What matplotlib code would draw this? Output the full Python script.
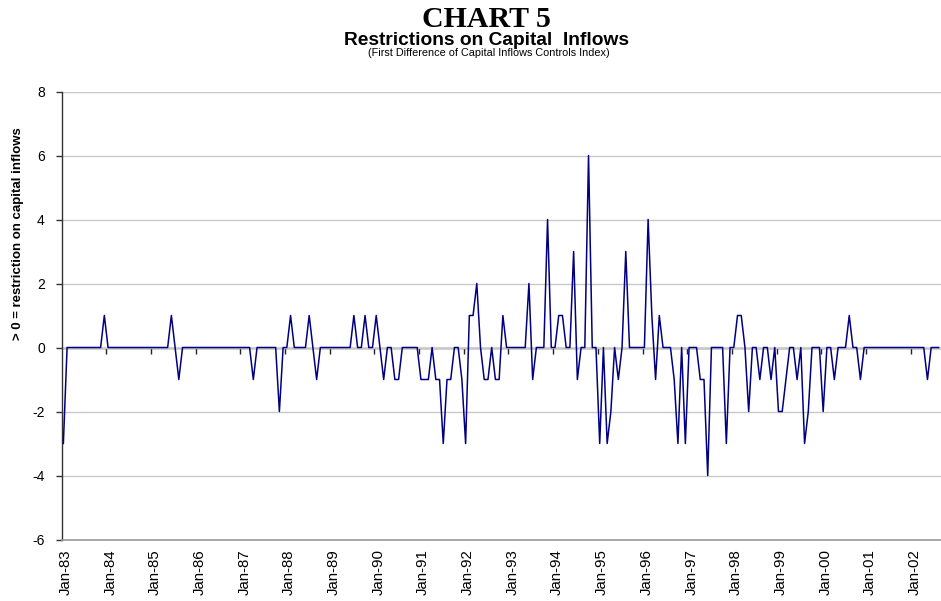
import numpy as np
import matplotlib
matplotlib.use("Agg")
import matplotlib.pyplot as plt

# Monthly first difference of capital inflows controls index, Jan-83 .. Aug-02
values = [
    -3, 0, 0, 0, 0, 0, 0, 0, 0, 0, 0, 1,            # 1983
    0, 0, 0, 0, 0, 0, 0, 0, 0, 0, 0, 0,             # 1984
    0, 0, 0, 0, 0, 1, 0, -1, 0, 0, 0, 0,            # 1985
    0, 0, 0, 0, 0, 0, 0, 0, 0, 0, 0, 0,             # 1986
    0, 0, 0, -1, 0, 0, 0, 0, 0, 0, -2, 0,           # 1987
    0, 1, 0, 0, 0, 0, 1, 0, -1, 0, 0, 0,            # 1988
    0, 0, 0, 0, 0, 0, 1, 0, 0, 1, 0, 0,             # 1989
    1, 0, -1, 0, 0, -1, -1, 0, 0, 0, 0, 0,          # 1990
    -1, -1, -1, 0, -1, -1, -3, -1, -1, 0, 0, -1,    # 1991
    -3, 1, 1, 2, 0, -1, -1, 0, -1, -1, 1, 0,        # 1992
    0, 0, 0, 0, 0, 2, -1, 0, 0, 0, 4, 0,            # 1993
    0, 1, 1, 0, 0, 3, -1, 0, 0, 6, 0, 0,            # 1994
    -3, 0, -3, -2, 0, -1, 0, 3, 0, 0, 0, 0,         # 1995
    0, 4, 1, -1, 1, 0, 0, 0, -1, -3, 0, -3,         # 1996
    0, 0, 0, -1, -1, -4, 0, 0, 0, 0, -3, 0,         # 1997
    0, 1, 1, 0, -2, 0, 0, -1, 0, 0, -1, 0,          # 1998
    -2, -2, -1, 0, 0, -1, 0, -3, -2, 0, 0, 0,       # 1999
    -2, 0, 0, -1, 0, 0, 0, 1, 0, 0, -1, 0,          # 2000
    0, 0, 0, 0, 0, 0, 0, 0, 0, 0, 0, 0,             # 2001
    0, 0, 0, 0, -1, 0, 0, 0,                        # 2002
]
year_labels = ["Jan-83", "Jan-84", "Jan-85", "Jan-86", "Jan-87", "Jan-88", "Jan-89",
               "Jan-90", "Jan-91", "Jan-92", "Jan-93", "Jan-94", "Jan-95", "Jan-96",
               "Jan-97", "Jan-98", "Jan-99", "Jan-00", "Jan-01", "Jan-02"]
y_ticks = [-6, -4, -2, 0, 2, 4, 6, 8]

plt.rcParams['font.family'] = ['Liberation Sans', 'DejaVu Sans']

W, H = 941, 601
fig = plt.figure(figsize=(W / 100, H / 100), dpi=100)
left, right, top, bottom = 61.5, 940.5, 91.5, 539.5
ax = fig.add_axes([left / W, 1 - bottom / H, (right - left) / W, (bottom - top) / H])

n = len(values)
x = np.arange(n)
ax.plot(x, values, color='#000080', lw=1.1, zorder=3)

ax.set_xlim(-0.5, n - 0.5)
ax.set_ylim(-6, 8)
ax.set_yticks(y_ticks)
ax.set_yticklabels([str(v) for v in y_ticks], fontsize=10)
ax.yaxis.grid(True, color='#c8c8c8', lw=1.0, zorder=0)
ax.set_axisbelow(True)

ax.tick_params(axis='y', direction='out', length=4, width=1, color='#333333', pad=8)
ax.spines['top'].set_visible(False)
ax.spines['right'].set_visible(False)
ax.spines['left'].set_color('#333333')
ax.spines['left'].set_linewidth(1.0)
ax.spines['bottom'].set_color('#999999')
ax.spines['bottom'].set_linewidth(1.2)

label_pos = np.arange(0, n, 12)[:len(year_labels)]
ax.set_xticks(label_pos + 0.6)
ax.set_xticklabels(year_labels, rotation=90, fontsize=10.8, va='top', ha='center')
ax.tick_params(axis='x', length=0, pad=7)

# category axis crossing at zero, with tick marks between Dec and Jan
sec = ax.secondary_xaxis(6 / 14)
sec.set_xticks(np.arange(12, n, 12) - 0.5)
sec.set_xticklabels([])
sec.tick_params(axis='x', direction='out', length=4, width=1, color='#222222')
sec.spines['bottom'].set_color('#222222')
sec.spines['bottom'].set_linewidth(1.0)
sec.spines['top'].set_visible(False)

cx = 486 / W
fig.text(cx, 1 - 26.7 / H, "CHART 5", ha='center', va='baseline', fontsize=21.5,
         fontweight='bold', family=['Liberation Serif', 'DejaVu Serif'])
fig.text(cx, 1 - 45 / H, "Restrictions on Capital  Inflows", ha='center', va='baseline',
         fontsize=13.8, fontweight='bold')
fig.text(489 / W, 1 - 55.5 / H, "(First Difference of Capital Inflows Controls Index)",
         ha='center', va='baseline', fontsize=7.8)
fig.text(18 / W, 1 - 234 / H, "> 0 = restriction on capital inflows", rotation=90,
         ha='center', va='center', fontsize=9.5, fontweight='bold')

fig.savefig("out.png", dpi=100)
